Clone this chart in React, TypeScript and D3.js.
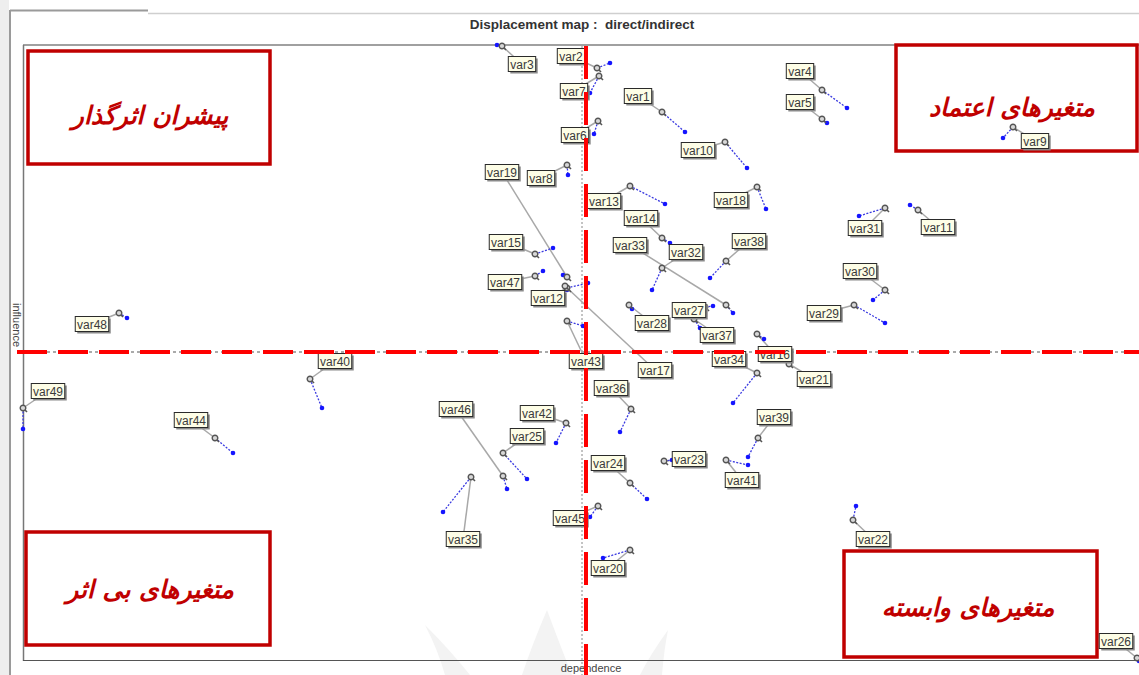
import React, { useEffect, useRef } from "react";
import * as d3 from "d3";

const W = 1139;
const H = 675;

// variables of the MICMAC displacement map
const varNames = d3.range(1, 50).map((i) => `var${i}`);

// direct position (dependence, influence)
const directDep = [639, 574, 479, 799, 799, 575, 576, 544, 990, 702, 895, 544, 607, 639, 512, 734, 542, 734, 544, 607, 766, 830, 641, 607, 480, 1114, 682, 606, 831, 862, 862, 639, 703, 734, 448, 608, 671, 703, 735, 287, 703, 543, 544, 192, 575, 480, 512, 96, 0];
const directInf = [548, 592, 614, 570, 541, 539, 584, 495, 533, 518, 450, 372, 474, 422, 406, 326, 374, 473, 383, 110, 296, 140, 199, 177, 207, 2, 353, 355, 355, 370, 452, 392, 355, 287, 183, 251, 341, 399, 222, 281, 200, 237, 339, 222, 154, 184, 384, 347, 252];

// indirect position (dependence, influence)
const indirectDep = [662, 587, 474, 824, 804, 571, 567, 545, 980, 724, 887, 565, 642, 647, 530, 741, 544, 743, 540, 580, 765, 833, 649, 624, 504, 1116, 690, 609, 862, 850, 836, 629, 710, 710, 420, 597, 677, 687, 725, 299, 725, 533, 560, 210, 567, 484, 520, 104, 0];
const indirectInf = [528, 597, 615, 552, 537, 526, 567, 485, 522, 492, 455, 377, 456, 417, 412, 321, 370, 451, 385, 102, 298, 154, 200, 161, 181, -1, 354, 351, 337, 360, 444, 370, 347, 257, 148, 228, 332, 382, 203, 252, 195, 217, 334, 207, 143, 171, 389, 342, 231];

// where each name tag sits
const tagDep = [615, 548, 499, 777, 777, 552, 551, 518, 1012, 675, 915, 525, 581, 618, 483, 752, 632, 708, 479, 585, 791, 850, 666, 585, 504, 1093, 666, 629, 801, 837, 842, 663, 607, 706, 440, 588, 694, 726, 751, 312, 719, 514, 563, 168, 547, 433, 482, 69, 25];
const tagInf = [564, 604, 596, 589, 558, 525, 569, 482, 519, 510, 433, 362, 459, 442, 418, 306, 290, 460, 488, 92, 281, 121, 201, 197, 224, 19, 350, 337, 347, 389, 432, 408, 415, 301, 121, 272, 325, 419, 243, 299, 180, 247, 299, 240, 142, 251, 378, 336, 269];

// mean lines
const meanDep = 563;
const meanInf = 308;

const quadrantTitles = ["پیشران اثرگذار", "متغیرهای اعتماد", "متغیرهای بی اثر", "متغیرهای وابسته"];

export default function App() {
  const ref = useRef<SVGSVGElement>(null);

  useEffect(() => {
    document.body.style.margin = "0";
    const svg = d3.select(ref.current);
    svg.selectAll("*").remove();

    const x = d3.scaleLinear().domain([0, 1116]).range([23, 1139]);
    const y = d3.scaleLinear().domain([0, 614]).range([660, 46]);

    // faint watermark behind the plot
    const wm = svg.append("g").attr("fill", "#f3f3f3");
    wm.append("path").attr("d", "M425,625 Q450,650 470,675 L445,675 Q438,650 425,625Z");
    wm.append("path").attr("d", "M547,610 Q532,645 522,675 L572,675 Q560,645 547,610Z");
    wm.append("path").attr("d", "M668,630 Q650,655 640,675 L662,675 Q664,650 668,630Z");

    // outer frame
    svg.append("rect").attr("x", 0).attr("y", 0).attr("width", 9).attr("height", H).attr("fill", "#eeeeee");
    svg.append("line").attr("x1", 10).attr("x2", 10).attr("y1", 10).attr("y2", H).attr("stroke", "#9a9a9a").attr("stroke-width", 2);
    svg.append("line").attr("x1", 10).attr("x2", 148).attr("y1", 10.5).attr("y2", 10.5).attr("stroke", "#9a9a9a").attr("stroke-width", 2);
    svg.append("line").attr("x1", 148).attr("x2", W).attr("y1", 13.5).attr("y2", 13.5).attr("stroke", "#cfcfcf").attr("stroke-width", 1.5);

    // plot frame
    svg.append("line").attr("x1", 23).attr("x2", W).attr("y1", 45).attr("y2", 45).attr("stroke", "#a0a0a0").attr("stroke-width", 2);
    svg.append("line").attr("x1", 23.5).attr("x2", 23.5).attr("y1", 45).attr("y2", 661).attr("stroke", "#777").attr("stroke-width", 1.5);
    svg.append("line").attr("x1", 23).attr("x2", W).attr("y1", 660.5).attr("y2", 660.5).attr("stroke", "#555").attr("stroke-width", 1.2);

    // titles
    svg.append("text").attr("x", 582).attr("y", 29).attr("text-anchor", "middle")
      .attr("font-family", "Liberation Sans, Arial, sans-serif").attr("font-size", 13.5).attr("font-weight", "bold")
      .attr("fill", "#333").attr("xml:space", "preserve").text("Displacement map :  direct/indirect");
    svg.append("text").attr("x", 591).attr("y", 672).attr("text-anchor", "middle")
      .attr("font-family", "Liberation Sans, Arial, sans-serif").attr("font-size", 11).attr("fill", "#444").text("dependence");
    svg.append("text").attr("transform", "translate(13,325) rotate(90)").attr("text-anchor", "middle")
      .attr("font-family", "Liberation Sans, Arial, sans-serif").attr("font-size", 11).attr("fill", "#444").text("influence");

    // quadrant boxes
    const boxes = [
      { x0: 28, y0: 51, x1: 270, y1: 164, tx: 150, ty: 124 },
      { x0: 896, y0: 45, x1: 1137, y1: 151, tx: 1012, ty: 116 },
      { x0: 26, y0: 532, x1: 270, y1: 645, tx: 150, ty: 598 },
      { x0: 844, y0: 551, x1: 1097, y1: 657, tx: 968, ty: 616 },
    ];
    const q = svg.append("g");
    q.selectAll("rect").data(boxes).join("rect")
      .attr("x", (d) => d.x0).attr("y", (d) => d.y0)
      .attr("width", (d) => d.x1 - d.x0).attr("height", (d) => d.y1 - d.y0)
      .attr("fill", "none").attr("stroke", "#c00000").attr("stroke-width", 3.5);
    q.selectAll("text").data(boxes).join("text")
      .attr("x", (d) => d.tx).attr("y", (d) => d.ty)
      .attr("text-anchor", "middle").attr("direction", "rtl")
      .attr("font-family", "DejaVu Sans, sans-serif").attr("font-weight", "bold").attr("font-style", "italic")
      .attr("font-size", 25).attr("fill", "#c00000")
      .text((_, i) => quadrantTitles[i]);

    // gray mean lines
    svg.append("line").attr("x1", x(meanDep) - 4).attr("x2", x(meanDep) - 4).attr("y1", 46).attr("y2", H)
      .attr("stroke", "#888").attr("stroke-width", 1).attr("stroke-dasharray", "2,2");
    svg.append("line").attr("x1", 23).attr("x2", W).attr("y1", y(meanInf)).attr("y2", y(meanInf))
      .attr("stroke", "#aaa").attr("stroke-width", 2).attr("stroke-dasharray", "3,3");

    const rows = varNames.map((name, i) => ({
      name,
      dx: x(directDep[i]), dy: y(directInf[i]),
      ix: x(indirectDep[i]), iy: y(indirectInf[i]),
      lx: x(tagDep[i]), ly: y(tagInf[i]),
    }));

    // tag connectors
    svg.append("g").selectAll("line").data(rows).join("line")
      .attr("x1", (d) => d.lx).attr("y1", (d) => d.ly).attr("x2", (d) => d.dx).attr("y2", (d) => d.dy)
      .attr("stroke", "#a8a8a8").attr("stroke-width", 1.5);

    // direct -> indirect
    svg.append("g").selectAll("line").data(rows).join("line")
      .attr("x1", (d) => d.dx).attr("y1", (d) => d.dy).attr("x2", (d) => d.ix).attr("y2", (d) => d.iy)
      .attr("stroke", "#3a3ae0").attr("stroke-width", 1.3).attr("stroke-dasharray", "2,1.5");
    svg.append("g").selectAll("circle").data(rows).join("circle")
      .attr("cx", (d) => d.ix).attr("cy", (d) => d.iy).attr("r", 2.3).attr("fill", "#1515ff");

    // direct markers
    const mk = svg.append("g").selectAll("g").data(rows).join("g")
      .attr("transform", (d) => `translate(${d.dx},${d.dy})`);
    mk.append("line").attr("x1", 1.5).attr("y1", 1.5).attr("x2", 4).attr("y2", 4).attr("stroke", "#555").attr("stroke-width", 1.6);
    mk.append("circle").attr("r", 2.8).attr("fill", "#d8d8d8").attr("stroke", "#555").attr("stroke-width", 1.4);

    // name tags
    const tag = svg.append("g").selectAll("g").data(rows).join("g")
      .attr("transform", (d) => `translate(${d.lx},${d.ly})`);
    const tw = (s: string) => s.length * 6.1 + 3;
    tag.append("rect").attr("x", (d) => -tw(d.name) / 2 + 2).attr("y", -5.5).attr("width", (d) => tw(d.name)).attr("height", 15)
      .attr("fill", "#8a8a8a");
    tag.append("rect").attr("x", (d) => -tw(d.name) / 2).attr("y", -7.5).attr("width", (d) => tw(d.name)).attr("height", 15)
      .attr("fill", "#fdfde6").attr("stroke", "#2a2a2a").attr("stroke-width", 1);
    tag.append("text").attr("y", 4.5).attr("text-anchor", "middle")
      .attr("font-family", "Liberation Sans, Arial, sans-serif").attr("font-size", 12).attr("fill", "#3a3a3a")
      .text((d) => d.name);

    // red dashed mean lines
    svg.append("line").attr("x1", x(meanDep)).attr("x2", x(meanDep)).attr("y1", 46).attr("y2", H)
      .attr("stroke", "#ff0000").attr("stroke-width", 4).attr("stroke-dasharray", "33,13");
    svg.append("line").attr("x1", 17).attr("x2", W).attr("y1", y(meanInf)).attr("y2", y(meanInf))
      .attr("stroke", "#ff0000").attr("stroke-width", 4).attr("stroke-dasharray", "30,11");
  }, []);

  return <svg ref={ref} width={W} height={H} style={{ display: "block", background: "#fff" }} />;
}
